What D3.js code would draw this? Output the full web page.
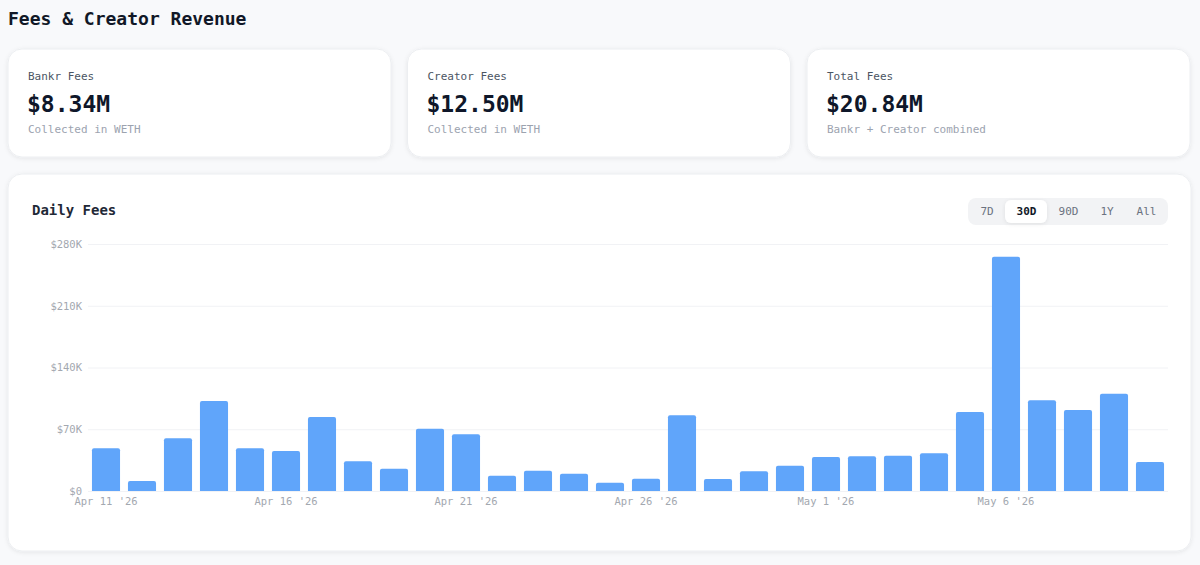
<!DOCTYPE html>
<meta charset="utf-8">
<style>
body {
  margin: 0;
  background: #f8f9fb;
  font-family: "DejaVu Sans Mono", "Liberation Mono", monospace;
}
.title {
  font-size: 18px;
  font-weight: bold;
  fill: #111827;
}
.card-label { font-size: 11px; fill: #4b5563; }
.card-value { font-size: 23px; font-weight: bold; fill: #0f172a; }
.card-sub { font-size: 11px; fill: #9ca3af; }
.chart-title { font-size: 14px; font-weight: bold; fill: #1f2937; }
.btn-text { font-size: 11px; fill: #6b7280; }
.btn-text.active { fill: #111827; font-weight: bold; }
.axis text { font-size: 10.5px; fill: #a3a8b0; font-family: "DejaVu Sans Mono", monospace; }
.axis path, .axis line { display: none; }
.grid line { stroke: #f1f2f5; }
.bar { fill: #60a5fa; }
</style>
<svg width="1200" height="565"></svg>
<script src="https://cdn.jsdelivr.net/npm/d3@7"></script>
<script>

var days = ["Apr 11 '26","Apr 12 '26","Apr 13 '26","Apr 14 '26","Apr 15 '26",
  "Apr 16 '26","Apr 17 '26","Apr 18 '26","Apr 19 '26","Apr 20 '26",
  "Apr 21 '26","Apr 22 '26","Apr 23 '26","Apr 24 '26","Apr 25 '26",
  "Apr 26 '26","Apr 27 '26","Apr 28 '26","Apr 29 '26","Apr 30 '26",
  "May 1 '26","May 2 '26","May 3 '26","May 4 '26","May 5 '26",
  "May 6 '26","May 7 '26","May 8 '26","May 9 '26","May 10 '26"];
var fees = [48400, 11300, 59700, 102000, 48400, 45300, 83900, 33700, 25300, 70600,
  64200, 17400, 23000, 19600, 9400, 14000, 86000, 13600, 22300, 28700,
  38500, 39300, 40000, 42700, 89600, 265600, 102800, 91800, 110300, 32900];
var yTicks = [0, 70000, 140000, 210000, 280000];
var tickDays = ["Apr 11 '26","Apr 16 '26","Apr 21 '26","Apr 26 '26","May 1 '26","May 6 '26"];

var cardLabels = ["Bankr Fees", "Creator Fees", "Total Fees"];
var cardValues = ["$8.34M", "$12.50M", "$20.84M"];
var cardSubs = ["Collected in WETH", "Collected in WETH", "Bankr + Creator combined"];
var ranges = ["7D", "30D", "90D", "1Y", "All"];
var activeRange = "30D";

var svg = d3.select("svg");

var defs = svg.append("defs");
var f = defs.append("filter").attr("id", "shadow").attr("x", "-5%").attr("y", "-10%")
  .attr("width", "110%").attr("height", "130%");
f.append("feDropShadow").attr("dx", 0).attr("dy", 1).attr("stdDeviation", 2)
  .attr("flood-color", "#000").attr("flood-opacity", 0.08);

svg.append("text").attr("class", "title").attr("x", 8).attr("y", 25)
  .text("Fees & Creator Revenue");

// stat cards
var cardW = 383, cardGap = 16.5;
var cards = svg.selectAll(".card").data(cardLabels).enter().append("g")
  .attr("class", "card")
  .attr("transform", function(d, i) { return "translate(" + (8 + i * (cardW + cardGap)) + ",49)"; });
cards.append("rect").attr("width", cardW).attr("height", 108).attr("rx", 14)
  .attr("fill", "#fff").attr("stroke", "#eceef1").attr("filter", "url(#shadow)");
cards.append("text").attr("class", "card-label").attr("x", 20).attr("y", 31).text(function(d) { return d; });
cards.append("text").attr("class", "card-value").attr("x", 19).attr("y", 63).text(function(d, i) { return cardValues[i]; });
cards.append("text").attr("class", "card-sub").attr("x", 20).attr("y", 84).text(function(d, i) { return cardSubs[i]; });

// chart card
svg.append("rect").attr("x", 8).attr("y", 174).attr("width", 1183).attr("height", 377)
  .attr("rx", 14).attr("fill", "#fff").attr("stroke", "#eceef1").attr("filter", "url(#shadow)");
svg.append("text").attr("class", "chart-title").attr("x", 32).attr("y", 215).text("Daily Fees");

// range buttons
var btnX = [968, 1004, 1047, 1088, 1124];
var btnW = [36, 43, 41, 36, 43];
var btns = svg.append("g");
btns.append("rect").attr("x", 968).attr("y", 198).attr("width", 200).attr("height", 27)
  .attr("rx", 8).attr("fill", "#f2f3f5");
var b = btns.selectAll(".btn").data(ranges).enter().append("g").attr("class", "btn");
b.filter(function(d) { return d == activeRange; }).append("rect")
  .attr("x", function(d) { return btnX[ranges.indexOf(d)] + 1; })
  .attr("y", 200).attr("width", function(d) { return btnW[ranges.indexOf(d)] - 1; })
  .attr("height", 23).attr("rx", 6).attr("fill", "#fff")
  .attr("filter", "url(#shadow)");
b.append("text")
  .attr("class", function(d) { return d == activeRange ? "btn-text active" : "btn-text"; })
  .attr("x", function(d, i) { return btnX[i] + btnW[i] / 2 + 1; })
  .attr("y", 215).attr("text-anchor", "middle")
  .text(function(d) { return d; });

// chart
var x = d3.scaleBand().domain(days).range([88, 1168]).paddingInner(0.22).paddingOuter(0.11);
var y = d3.scaleLinear().domain([0, 280000]).range([491, 244]);

svg.append("g").attr("class", "grid").selectAll("line").data(yTicks).enter().append("line")
  .attr("x1", 88).attr("x2", 1168)
  .attr("y1", function(d) { return y(d) + 0.5; }).attr("y2", function(d) { return y(d) + 0.5; });

svg.append("g").attr("class", "axis").attr("transform", "translate(85,0)")
  .call(d3.axisLeft(y).tickValues(yTicks).tickSize(0).tickPadding(3)
    .tickFormat(function(d) { return "$" + (d == 0 ? "0" : d / 1000 + "K"); }));

svg.append("g").attr("class", "axis").attr("transform", "translate(0,492)")
  .call(d3.axisBottom(x).tickValues(tickDays).tickSize(0).tickPadding(6));

var r = 2;
svg.append("g").selectAll(".bar").data(fees).enter().append("path")
  .attr("class", "bar")
  .attr("d", function(d, i) {
    var x0 = x(days[i]), w = x.bandwidth(), y0 = y(d), y1 = y(0);
    return "M" + x0 + "," + y1 + "V" + (y0 + r) + "Q" + x0 + "," + y0 + " " + (x0 + r) + "," + y0 +
      "H" + (x0 + w - r) + "Q" + (x0 + w) + "," + y0 + " " + (x0 + w) + "," + (y0 + r) + "V" + y1 + "Z";
  });

</script>
